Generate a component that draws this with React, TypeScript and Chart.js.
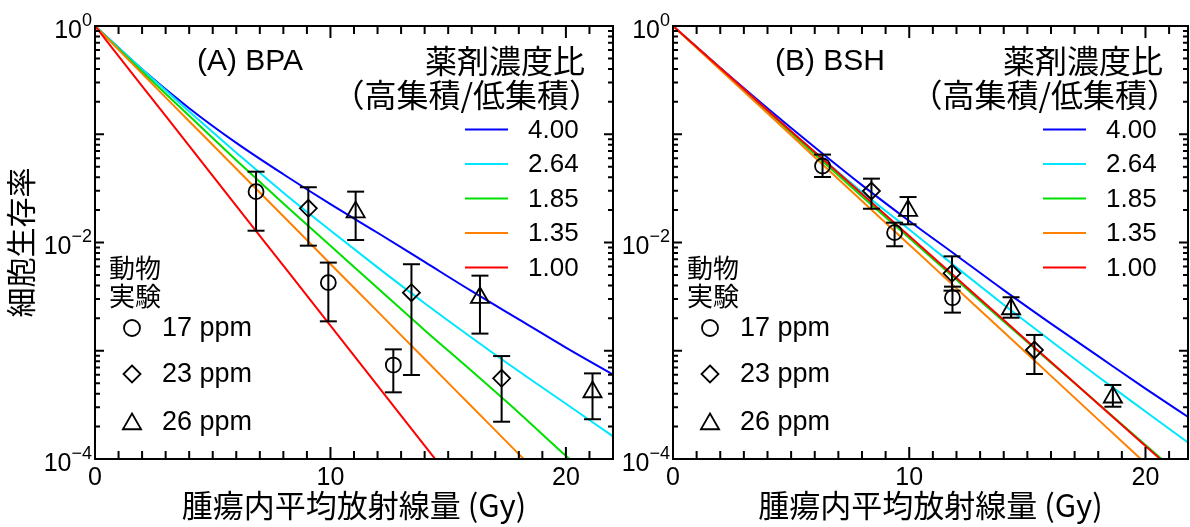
import React, { useEffect, useRef } from "react";
import { Chart, registerables } from "chart.js";

Chart.register(...registerables);

// ---------------- data ----------------
const curveDose = [0, 2, 4, 6, 8, 10, 12, 14, 16, 18, 20, 22];
const ratioLabels = ["4.00", "2.64", "1.85", "1.35", "1.00"];

// (A) BPA model curves (survival fraction)
const bpaCurve400 = [1, 0.398, 0.174, 0.0832, 0.0427, 0.0226, 0.0123, 0.00661, 0.00355, 0.00195, 0.00107, 0.000603];
const bpaCurve264 = [1, 0.398, 0.162, 0.0676, 0.0288, 0.0129, 0.00589, 0.00275, 0.00132, 0.000646, 0.000324, 0.000162];
const bpaCurve185 = [1, 0.38, 0.148, 0.0575, 0.0229, 0.00933, 0.0038, 0.00155, 0.00065, 0.000268, 0.000107, 0.0000445];
const bpaCurve135 = [1, 0.363, 0.132, 0.048, 0.01746, 0.00634, 0.00231, 0.000838, 0.000305, 0.000111, 0.0000402, 0.0000146];
const bpaCurve100 = [1, 0.279, 0.0781, 0.0218, 0.00611, 0.00171, 0.000477, 0.000133, 0.0000372, 0.0000105, 0.0000029, 0.00000081];

// (B) BSH model curves
const bshCurve400 = [1, 0.412, 0.174, 0.0759, 0.0339, 0.0158, 0.00759, 0.00363, 0.00178, 0.000891, 0.000447, 0.000229];
const bshCurve264 = [1, 0.407, 0.166, 0.0684, 0.0292, 0.0132, 0.00589, 0.00266, 0.00123, 0.000575, 0.000275, 0.000132];
const bshCurve185 = [1, 0.403, 0.162, 0.0653, 0.0266, 0.011, 0.00452, 0.00186, 0.000776, 0.000324, 0.000135, 0.0000562];
const bshCurve135 = [1, 0.394, 0.156, 0.0614, 0.0242, 0.00955, 0.00377, 0.00149, 0.000586, 0.000231, 0.0000912, 0.000036];
const bshCurve100 = [1, 0.409, 0.167, 0.0685, 0.0281, 0.0115, 0.0047, 0.00192, 0.000787, 0.000322, 0.000132, 0.000054];

// animal experiments, (A) BPA
const bpaDose17 = [6.84, 9.91, 12.67];
const bpaSurv17 = [0.0295, 0.00426, 0.000738];
const bpaLow17 = [0.01285, 0.00187, 0.000413];
const bpaHigh17 = [0.0451, 0.00652, 0.00103];

const bpaDose23 = [9.06, 13.44, 17.27];
const bpaSurv23 = [0.0207, 0.00344, 0.000556];
const bpaLow23 = [0.00935, 0.000597, 0.000221];
const bpaHigh23 = [0.0324, 0.0063, 0.000893];

const bpaDose26 = [11.07, 16.35, 21.13];
const bpaSurv26 = [0.0191, 0.00309, 0.000416];
const bpaLow26 = [0.01054, 0.00144, 0.000233];
const bpaHigh26 = [0.0295, 0.00494, 0.000618];

// animal experiments, (B) BSH
const bshDose17 = [6.33, 9.38, 11.83];
const bshSurv17 = [0.0509, 0.01233, 0.00309];
const bshLow17 = [0.0403, 0.00923, 0.00225];
const bshHigh17 = [0.0649, 0.01524, 0.00391];

const bshDose23 = [8.4, 11.81, 15.3];
const bshSurv23 = [0.0299, 0.00519, 0.001016];
const bshLow23 = [0.0205, 0.00359, 0.00061];
const bshHigh23 = [0.0389, 0.00745, 0.0014];

const bshDose26 = [9.95, 14.31, 18.62];
const bshSurv26 = [0.0197, 0.00243, 0.000372];
const bshLow26 = [0.01472, 0.00202, 0.000304];
const bshHigh26 = [0.0263, 0.00312, 0.000483];

const xTickValues = [0, 10, 20];
const xMaxA = 22;
const xMaxB = 21.8;
const yTickValues = [0.0001, 0.01, 1];
const yTickBase = "10";
const yTickExponents = ["\u22124", "\u22122", "0"];

const legendTitle = ["薬剤濃度比", "（高集積/低集積）"];
const animalTitle = ["動物", "実験"];
const animalLabels = ["17 ppm", "23 ppm", "26 ppm"];
const xTitle = "腫瘍内平均放射線量 (Gy)";
const yTitle = "細胞生存率";

// ---------------- styles ----------------
const lineColors = ["#0000ff", "#00e6ff", "#00e000", "#ff8000", "#ff0000"];
const markerStyles = ["circle", "rectRot", "triangle"];
const markerRadii = [7.5, 8.5, 10.5];
const SANS = "'Liberation Sans', Arial, 'Noto Sans CJK JP', sans-serif";
const CJK = "'Noto Sans CJK JP', 'Liberation Sans', sans-serif";

type Group = { dose: number[]; surv: number[]; low: number[]; high: number[] };
type PanelSpec = {
  label: string;
  curves: number[][];
  groups: Group[];
  xMax: number;
  width: number;
  yAxisWidth: number;
  padRight: number;
  showYTitle: boolean;
};

const panels: PanelSpec[] = [
  {
    label: "(A) BPA",
    curves: [bpaCurve400, bpaCurve264, bpaCurve185, bpaCurve135, bpaCurve100],
    groups: [
      { dose: bpaDose17, surv: bpaSurv17, low: bpaLow17, high: bpaHigh17 },
      { dose: bpaDose23, surv: bpaSurv23, low: bpaLow23, high: bpaHigh23 },
      { dose: bpaDose26, surv: bpaSurv26, low: bpaLow26, high: bpaHigh26 },
    ],
    xMax: xMaxA,
    width: 620,
    yAxisWidth: 95,
    padRight: 7,
    showYTitle: true,
  },
  {
    label: "(B) BSH",
    curves: [bshCurve400, bshCurve264, bshCurve185, bshCurve135, bshCurve100],
    groups: [
      { dose: bshDose17, surv: bshSurv17, low: bshLow17, high: bshHigh17 },
      { dose: bshDose23, surv: bshSurv23, low: bshLow23, high: bshHigh23 },
      { dose: bshDose26, surv: bshSurv26, low: bshLow26, high: bshHigh26 },
    ],
    xMax: xMaxB,
    width: 570,
    yAxisWidth: 53,
    padRight: 2,
    showYTitle: false,
  },
];

function drawMarker(ctx: CanvasRenderingContext2D, style: string, x: number, y: number, r: number) {
  ctx.beginPath();
  if (style === "circle") {
    ctx.arc(x, y, r, 0, Math.PI * 2);
  } else if (style === "rectRot") {
    ctx.moveTo(x, y - r);
    ctx.lineTo(x + r, y);
    ctx.lineTo(x, y + r);
    ctx.lineTo(x - r, y);
    ctx.closePath();
  } else {
    const h = r * Math.sqrt(3) / 2;
    ctx.moveTo(x, y - r);
    ctx.lineTo(x + h, y + r / 2);
    ctx.lineTo(x - h, y + r / 2);
    ctx.closePath();
  }
  ctx.stroke();
}

function makeDecor(p: PanelSpec) {
  return {
    id: "decor",
    afterDatasetsDraw(chart: any) {
      const { ctx, chartArea: a, scales } = chart;
      const xs = scales.x;
      const ys = scales.y;
      ctx.save();
      ctx.strokeStyle = "#000";
      ctx.lineWidth = 2;
      ctx.strokeRect(a.left, a.top, a.right - a.left, a.bottom - a.top);
      // tick marks (inward) on all four sides
      ctx.beginPath();
      for (let d = 0; d <= p.xMax; d++) {
        const px = xs.getPixelForValue(d);
        const len = d % 10 === 0 ? 12 : 8;
        ctx.moveTo(px, a.bottom);
        ctx.lineTo(px, a.bottom - len);
        ctx.moveTo(px, a.top);
        ctx.lineTo(px, a.top + len);
      }
      for (let e = -4; e <= 0; e++) {
        for (let m = 1; m <= 9; m++) {
          const v = m * Math.pow(10, e);
          if (v > 1.0001) break;
          const py = ys.getPixelForValue(v);
          const len = m === 1 ? 9 : 5;
          ctx.moveTo(a.left, py);
          ctx.lineTo(a.left + len, py);
          ctx.moveTo(a.right, py);
          ctx.lineTo(a.right - len, py);
        }
      }
      ctx.stroke();

      ctx.fillStyle = "#000";
      ctx.textBaseline = "middle";

      // y tick labels: 10 with superscript exponent
      ctx.textAlign = "right";
      yTickValues.forEach((v, i) => {
        const py = ys.getPixelForValue(v);
        const right = a.left - 3;
        ctx.font = `18px ${SANS}`;
        const ew = ctx.measureText(yTickExponents[i]).width;
        ctx.fillText(yTickExponents[i], right, py - 5);
        ctx.font = `25px ${SANS}`;
        ctx.fillText(yTickBase, right - ew, py + 5);
      });

      // panel label
      ctx.font = `30px ${SANS}`;
      ctx.textAlign = "left";
      ctx.fillText(p.label, a.left + 102, a.top + 36);
      // legend title
      ctx.textAlign = "right";
      ctx.font = `32px ${CJK}`;
      ctx.fillText(legendTitle[0], a.left + 490, a.top + 35);
      ctx.fillText(legendTitle[1], a.left + 506, a.top + 69);
      // legend rows
      ctx.font = `26px ${SANS}`;
      ratioLabels.forEach((lab, i) => {
        const y = a.top + 103.5 + i * 34.5;
        ctx.strokeStyle = lineColors[i];
        ctx.lineWidth = 2;
        ctx.beginPath();
        ctx.moveTo(a.left + 370, y);
        ctx.lineTo(a.left + 413, y);
        ctx.stroke();
        ctx.textAlign = "left";
        ctx.fillText(lab, a.left + 433, y + 1);
      });
      // animal experiment legend
      ctx.textAlign = "left";
      ctx.font = `26px ${CJK}`;
      ctx.fillText(animalTitle[0], a.left + 14, a.top + 242);
      ctx.fillText(animalTitle[1], a.left + 14, a.top + 270);
      ctx.font = `27px ${SANS}`;
      ctx.strokeStyle = "#000";
      ctx.lineWidth = 1.8;
      const rowsY = [302, 348, 396];
      animalLabels.forEach((lab, i) => {
        const y = a.top + rowsY[i];
        drawMarker(ctx, markerStyles[i], a.left + 37, y + (i === 2 ? 2 : 0), markerRadii[i] + (i === 0 ? 0.5 : 0));
        ctx.fillText(lab, a.left + 67, y + 1);
      });
      ctx.restore();
    },
  };
}

function buildConfig(p: PanelSpec): any {
  const datasets: any[] = [];
  p.curves.forEach((c, i) => {
    datasets.push({
      type: "line",
      label: ratioLabels[i],
      data: curveDose.map((d, k) => ({ x: d, y: c[k] })),
      borderColor: lineColors[i],
      borderWidth: 2,
      pointRadius: 0,
      fill: false,
      cubicInterpolationMode: "monotone",
      order: 10 - i,
    });
  });
  p.groups.forEach((g, gi) => {
    const err: any[] = [];
    g.dose.forEach((d, k) => {
      err.push({ x: d, y: g.low[k] }, { x: d, y: g.high[k] }, { x: d, y: null });
    });
    datasets.push({
      type: "line",
      label: animalLabels[gi] + " err",
      data: err,
      borderColor: "#000",
      borderWidth: 2,
      pointStyle: "line",
      pointRadius: 8.5,
      pointBorderWidth: 2,
      pointBorderColor: "#000",
      spanGaps: false,
      order: 1,
    });
    datasets.push({
      type: "scatter",
      label: animalLabels[gi],
      data: g.dose.map((d, k) => ({ x: d, y: g.surv[k] })),
      pointStyle: markerStyles[gi],
      pointRadius: markerRadii[gi],
      pointBorderColor: "#000",
      pointBackgroundColor: "rgba(0,0,0,0)",
      pointBorderWidth: 1.8,
      order: 0,
    });
  });

  return {
    type: "scatter",
    data: { datasets },
    options: {
      responsive: false,
      maintainAspectRatio: false,
      animation: false,
      devicePixelRatio: 1,
      events: [],
      layout: { autoPadding: false, padding: { left: 0, right: p.padRight, top: 26, bottom: 0 } },
      plugins: { legend: { display: false }, tooltip: { enabled: false } },
      scales: {
        x: {
          type: "linear",
          position: "bottom",
          min: 0,
          max: p.xMax,
          grid: { display: false, drawTicks: false },
          border: { display: false },
          afterBuildTicks: (s: any) => {
            s.ticks = xTickValues.map((v) => ({ value: v }));
          },
          afterFit: (s: any) => {
            s.height = 68;
            s.paddingLeft = 0;
            s.paddingRight = 0;
          },
          ticks: {
            font: { family: SANS, size: 25 },
            color: "#000",
            padding: 4,
            maxRotation: 0,
            autoSkip: false,
            callback: (v: any) => String(v),
          },
          title: {
            display: true,
            text: xTitle,
            color: "#000",
            font: { family: CJK, size: 31 },
            padding: { top: 0, bottom: 3 },
          },
        },
        y: {
          type: "logarithmic",
          position: "left",
          min: 0.0001,
          max: 1,
          grid: { display: false, drawTicks: false },
          border: { display: false },
          afterBuildTicks: (s: any) => {
            s.ticks = yTickValues.map((v) => ({ value: v }));
          },
          afterFit: (s: any) => {
            s.width = p.yAxisWidth;
            s.paddingTop = 0;
            s.paddingBottom = 0;
          },
          ticks: { display: false },
          title: {
            display: p.showYTitle,
            text: yTitle,
            color: "#000",
            font: { family: CJK, size: 30 },
            padding: { top: 3, bottom: 0 },
          },
        },
      },
    },
    plugins: [makeDecor(p)],
  };
}

function Panel({ spec, left }: { spec: PanelSpec; left: number }) {
  const ref = useRef<HTMLCanvasElement | null>(null);
  useEffect(() => {
    if (!ref.current) return;
    const chart = new Chart(ref.current, buildConfig(spec));
    return () => chart.destroy();
  }, [spec]);
  return (
    <canvas
      ref={ref}
      width={spec.width}
      height={527}
      style={{ position: "absolute", left, top: 0, width: spec.width, height: 527 }}
    />
  );
}

export default function App() {
  return (
    <div style={{ position: "absolute", left: 0, top: 0, width: 1190, height: 527, background: "#fff", overflow: "hidden" }}>
      <Panel spec={panels[0]} left={0} />
      <Panel spec={panels[1]} left={620} />
    </div>
  );
}
